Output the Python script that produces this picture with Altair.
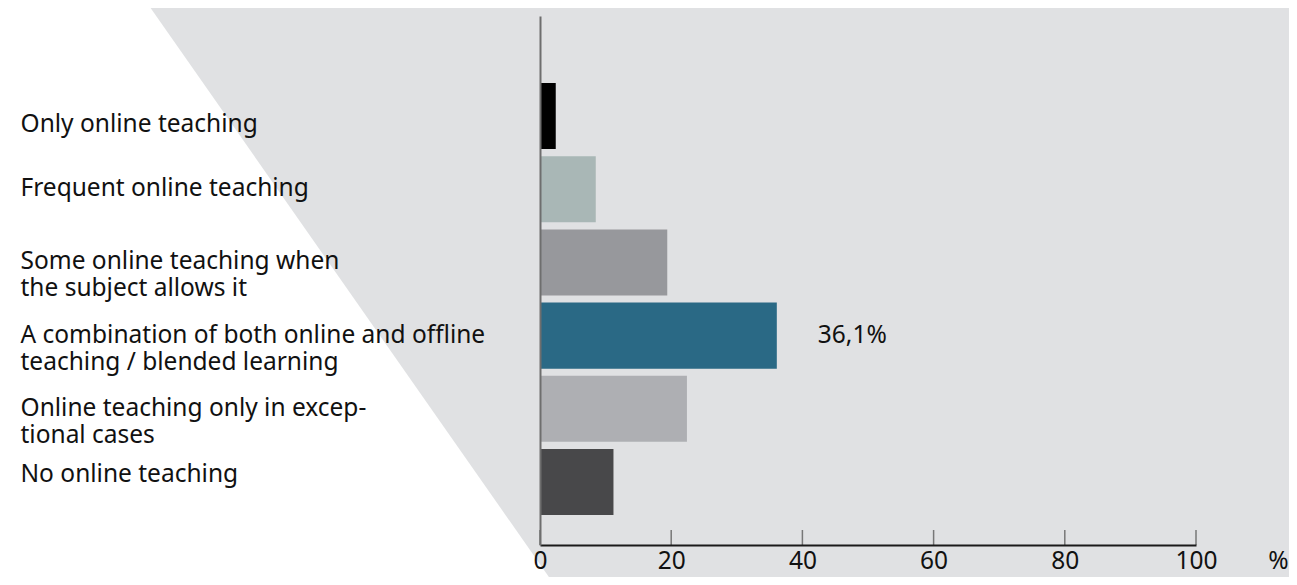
import altair as alt
import pandas as pd

# ---- data ----
categories = [
    "Only online teaching",
    "Frequent online teaching",
    "Some online teaching when|the subject allows it",
    "A combination of both online and offline|teaching / blended learning",
    "Online teaching only in excep-|tional cases",
    "No online teaching",
]
values = [2.4, 8.5, 19.4, 36.1, 22.4, 11.2]
colors = ["#000000", "#a9b7b6", "#97989c", "#2a6985", "#aeafb3", "#48484a"]
value_labels = ["", "", "", "36,1%", "", ""]
x_ticks = [0, 20, 40, 60, 80, 100]

# decorative background shape (pixel space of the plot area)
bg_y = [-20, 600]
bg_x = [-397.8, 36.2]
bg_x2 = [800, 800]

W, H = 656, 529
FONT = "Noto Sans"
FS = 24.5

df = pd.DataFrame({"cat": categories, "val": values, "col": colors, "lab": value_labels})
bg = pd.DataFrame({"y": bg_y, "x": bg_x, "x2": bg_x2})
ticks = pd.DataFrame({"t": x_ticks})

xscale = alt.Scale(domain=[0, 100], nice=False, zero=True)
yscale = alt.Scale(domain=categories, paddingInner=0.098, paddingOuter=0.6626, align=0.691)

background = alt.Chart(bg).mark_area(color="#e0e1e3", orient="horizontal", clip=False).encode(
    y=alt.Y("y:Q", scale=None, axis=None),
    x=alt.X("x:Q", scale=None, axis=None),
    x2="x2:Q",
)

bars = alt.Chart(df).mark_bar().encode(
    y=alt.Y(
        "cat:N",
        sort=categories,
        scale=yscale,
        title=None,
        axis=alt.Axis(
            labelExpr="split(datum.label, '|')",
            labelAlign="left",
            labelBaseline="middle",
            labelPadding=520,
            labelLimit=0,
            labelFontSize=FS,
            labelFont=FONT,
            labelColor="#111111",
            labelLineHeight=27,
            labelOffset={
                "condition": [
                    {"test": "datum.value == 'Only online teaching'", "value": 9},
                    {"test": "datum.value == 'No online teaching'", "value": -7},
                ],
                "value": 0,
            },
            ticks=False,
            tickSize=0,
            domain=True,
            domainColor="#6e6e6e",
            domainWidth=2,
            grid=False,
            zindex=1,
        ),
    ),
    x=alt.X(
        "val:Q",
        scale=xscale,
        axis=alt.Axis(
            values=x_ticks,
            title="%",
            titleFont=FONT,
            titleFontSize=FS,
            titleFontWeight="normal",
            titleColor="#111111",
            titleX=738,
            titleY=4,
            titleAlign="center",
            titleBaseline="top",
            titleAnchor="start",
            labelFont=FONT,
            labelFontSize=FS,
            labelColor="#111111",
            labelPadding=4,
            labelFlush=False,
            ticks=False,
            tickSize=0,
            domain=True,
            domainColor="#1a1a1a",
            domainWidth=2,
            grid=False,
            zindex=1,
        ),
    ),
    color=alt.Color("col:N", scale=None, legend=None),
)

tick_marks = alt.Chart(ticks).mark_rule(color="#777777", strokeWidth=1.5).encode(
    x=alt.X("t:Q", scale=xscale),
    y=alt.value(H - 15),
    y2=alt.value(H),
)

value_text = alt.Chart(df).transform_filter("datum.lab != ''").mark_text(
    align="left", baseline="middle", dx=41, fontSize=FS, font=FONT, color="#111111"
).encode(
    x=alt.X("val:Q", scale=xscale),
    y=alt.Y("cat:N", sort=categories, scale=yscale),
    text="lab:N",
)

chart = alt.layer(background, bars, tick_marks, value_text).properties(
    width=W,
    height=H,
    autosize=alt.AutoSizeParams(type="none"),
    padding={"left": 532, "top": 8, "right": 93, "bottom": 32},
    background="white",
).configure_view(stroke=None)

chart.save("out.html", embed_options={"renderer": "svg", "actions": False})
